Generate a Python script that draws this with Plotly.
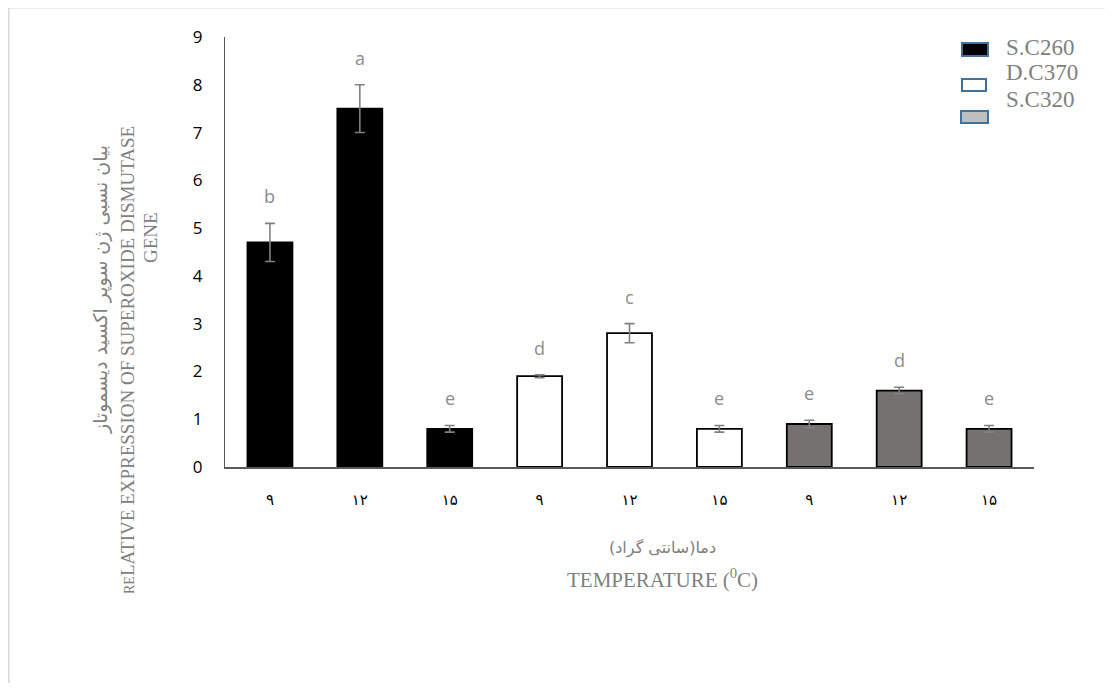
import plotly.graph_objects as go

# ---- data ----
temps = ["۹", "۱۲", "۱۵"]
groups = ["S.C260", "D.C370", "S.C320"]
values_sc260 = [4.7, 7.5, 0.8]
values_dc370 = [1.9, 2.8, 0.8]
values_sc320 = [0.9, 1.6, 0.8]
err_sc260 = [0.4, 0.5, 0.07]
err_dc370 = [0.03, 0.2, 0.07]
err_sc320 = [0.08, 0.07, 0.07]
letters_sc260 = ["b", "a", "e"]
letters_dc370 = ["d", "c", "e"]
letters_sc320 = ["e", "d", "e"]
y_ticks = list(range(0, 10))

OFF = 8  # page body margin
W, H = 1113 - 2 * OFF, 691 - 2 * OFF
# plot area in page pixels
PL, PR, PT, PB = 225, 1034, 37, 467
L, T = PL - OFF, PT - OFF
R = W - (PR - OFF)
B = H - (PB - OFF)
pw, ph = PR - PL, PB - PT

def px(x):
    return (x - PL) / pw

def py(y):
    return (PB - y) / ph

fills = ["#000000", "#ffffff", "#767171"]
all_vals = [values_sc260, values_dc370, values_sc320]
all_errs = [err_sc260, err_dc370, err_sc320]
all_letters = [letters_sc260, letters_dc370, letters_sc320]

fig = go.Figure()
annotations = []
for gi, (name, vals, errs, lets, col) in enumerate(zip(groups, all_vals, all_errs, all_letters, fills)):
    xs = [gi * 3 + i for i in range(3)]
    fig.add_trace(go.Bar(
        x=xs, y=vals, name=name,
        marker=dict(color=col, line=dict(color="#000000", width=1.8)),
        error_y=dict(type="data", array=errs, visible=True, color="#808080", thickness=1.6, width=5),
        showlegend=False, width=0.5,
    ))
    for x, v, e, t in zip(xs, vals, errs, lets):
        annotations.append(dict(x=x, y=v + e, xref="x", yref="y", text=t, showarrow=False,
                                xanchor="center", yanchor="middle", yshift=27,
                                font=dict(family="Open Sans, Liberation Sans", size=18, color="#8c8c8c")))

tick_vals = list(range(9))
tick_text = temps * 3

# axis titles
tfont = dict(family="Liberation Serif", size=19, color="#808080")
def ann(x, y, text, font, angle=0, xanchor="center"):
    annotations.append(dict(x=px(x), y=py(y), xref="paper", yref="paper", showarrow=False,
                            xanchor=xanchor, yanchor="middle", textangle=angle, text=text, font=font))

ann(662, 548, "دما(سانتی گراد)", dict(family="DejaVu Sans", size=16, color="#808080"))
ann(662, 578, "TEMPERATURE (<sup>0</sup>C)", dict(family="Liberation Serif", size=21, color="#808080"))
ann(100, 290, "بیان نسبی ژن سوپر اکسید دیسموتاز", dict(family="DejaVu Sans", size=19, color="#808080"), -90)
ann(127, 360, "<span style='font-size:14px'>RE</span>LATIVE EXPRESSION OF SUPEROXIDE DISMUTASE", tfont, -90)
ann(150, 238, "GENE", tfont, -90)

# custom legend
shapes = []
sw = [(962, 43, 988, 56, "#000000"), (962, 79, 986, 91, "#ffffff"), (961, 111, 988, 123, "#bfbfbf")]
for (x0, y0, x1, y1, c) in sw:
    shapes.append(dict(type="rect", xref="paper", yref="paper", x0=px(x0), x1=px(x1), y0=py(y1), y1=py(y0),
                       fillcolor=c, line=dict(color="#41719c", width=2)))
for name, ty in zip(groups, [47, 73, 100]):
    ann(1004, ty, name, dict(family="Liberation Serif", size=23, color="#808080"), 0, "left")

# outer frame
shapes.append(dict(type="line", xref="paper", yref="paper", x0=px(8.5), x1=px(8.5), y0=py(720), y1=py(7.5),
                   line=dict(color="#d9d9d9", width=2)))
shapes.append(dict(type="line", xref="paper", yref="paper", x0=px(8.5), x1=px(1130), y0=py(7.5), y1=py(7.5),
                   line=dict(color="#d9d9d9", width=2)))

fig.update_layout(
    width=W, height=H,
    margin=dict(l=L, r=R, t=T, b=B),
    plot_bgcolor="white", paper_bgcolor="white",
    bargap=0.5,
    annotations=annotations, shapes=shapes,
    xaxis=dict(range=[-0.5, 8.5], tickvals=tick_vals, ticktext=tick_text, showgrid=False, zeroline=False,
               showline=True, linecolor="#595959", linewidth=1.5, ticks="",
               tickfont=dict(family="DejaVu Sans", size=15, color="#000000"), fixedrange=True),
    yaxis=dict(range=[0, 9], tickvals=y_ticks, showgrid=False, zeroline=False, showline=True,
               linecolor="#595959", linewidth=1, ticks="",
               tickfont=dict(family="Open Sans, Liberation Sans", size=17, color="#000000"),
               fixedrange=True),
)
fig.update_xaxes(ticklabelstandoff=18)
fig.update_yaxes(ticklabelstandoff=18)
fig.write_html("out.html")
